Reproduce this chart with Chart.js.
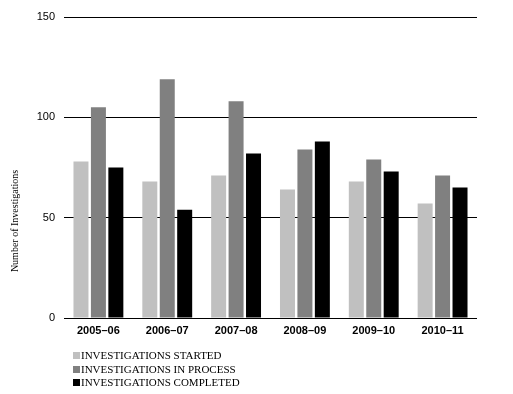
<!DOCTYPE html>
<html>
<head>
<meta charset="utf-8">
<script src="https://cdn.jsdelivr.net/npm/chart.js@4"></script>
<style>
  html, body { margin: 0; padding: 0; background: #fff; }
  #wrap { position: relative; width: 513px; height: 394px; }
  #legend {
    position: absolute; left: 73px; top: 349px;
    font: 11px "Liberation Serif", serif; color: #000;
  }
  #legend div { height: 13.5px; line-height: 13.5px; white-space: nowrap; }
  #legend span { display: inline-block; width: 7px; height: 7px; margin-right: 1px; vertical-align: 0px; }
</style>
</head>
<body>
<div id="wrap">
  <canvas id="chart" width="513" height="394"></canvas>
  <div id="legend"></div>
</div>
<script>
// =============================
// Data
// =============================
const years = ["2005–06", "2006–07", "2007–08", "2008–09", "2009–10", "2010–11"];
const started = [78, 68, 71, 64, 68, 57];
const inProcess = [105, 119, 108, 84, 79, 71];
const completed = [75, 54, 82, 88, 73, 65];
const yTicks = [0, 50, 100, 150];

const seriesNames = ["INVESTIGATIONS STARTED", "INVESTIGATIONS IN PROCESS", "INVESTIGATIONS COMPLETED"];
const seriesColors = ["#c0c0c0", "#808080", "#000000"];

// =============================
// Y axis title (drawn by hand, sits lower than centre)
// =============================
const yTitle = {
  id: "yTitle",
  afterDraw(chart) {
    const ctx = chart.ctx;
    ctx.save();
    ctx.translate(15, 221);
    ctx.rotate(-Math.PI / 2);
    ctx.font = '10px "Liberation Serif", serif';
    ctx.fillStyle = "#000";
    ctx.textAlign = "center";
    ctx.textBaseline = "middle";
    ctx.fillText("Number of Investigations", 0, 0);
    ctx.restore();
  }
};

const chart = new Chart(document.getElementById("chart"), {
  type: "bar",
  data: {
    labels: years,
    datasets: [
      { label: seriesNames[0], data: started, backgroundColor: seriesColors[0] },
      { label: seriesNames[1], data: inProcess, backgroundColor: seriesColors[1] },
      { label: seriesNames[2], data: completed, backgroundColor: seriesColors[2] }
    ]
  },
  options: {
    responsive: false,
    animation: false,
    categoryPercentage: 0.76,
    barPercentage: 0.86,
    layout: { padding: { top: 17, right: 36, left: 0, bottom: 0 } },
    plugins: { legend: { display: false }, tooltip: { enabled: false } },
    scales: {
      x: {
        grid: { display: false, drawTicks: false },
        border: { display: false },
        ticks: {
          color: "#000",
          padding: 6,
          font: { family: "Liberation Sans", size: 11, weight: "bold" }
        },
        afterFit(s) { s.height = 76; }
      },
      y: {
        min: 0,
        max: 150,
        afterBuildTicks(s) { s.ticks = yTicks.map(v => ({ value: v })); },
        grid: { color: "#000", lineWidth: 1, drawTicks: false },
        border: { display: false },
        ticks: {
          color: "#000",
          padding: 9,
          font: { family: "Liberation Sans", size: 11 }
        },
        afterFit(s) { s.width = 64; }
      }
    }
  },
  plugins: [yTitle]
});

// =============================
// Legend
// =============================
const legend = document.getElementById("legend");
chart.data.datasets.forEach(ds => {
  const row = document.createElement("div");
  row.innerHTML = `<span style="background:${ds.backgroundColor}"></span>${ds.label}`;
  legend.appendChild(row);
});
</script>
</body>
</html>
